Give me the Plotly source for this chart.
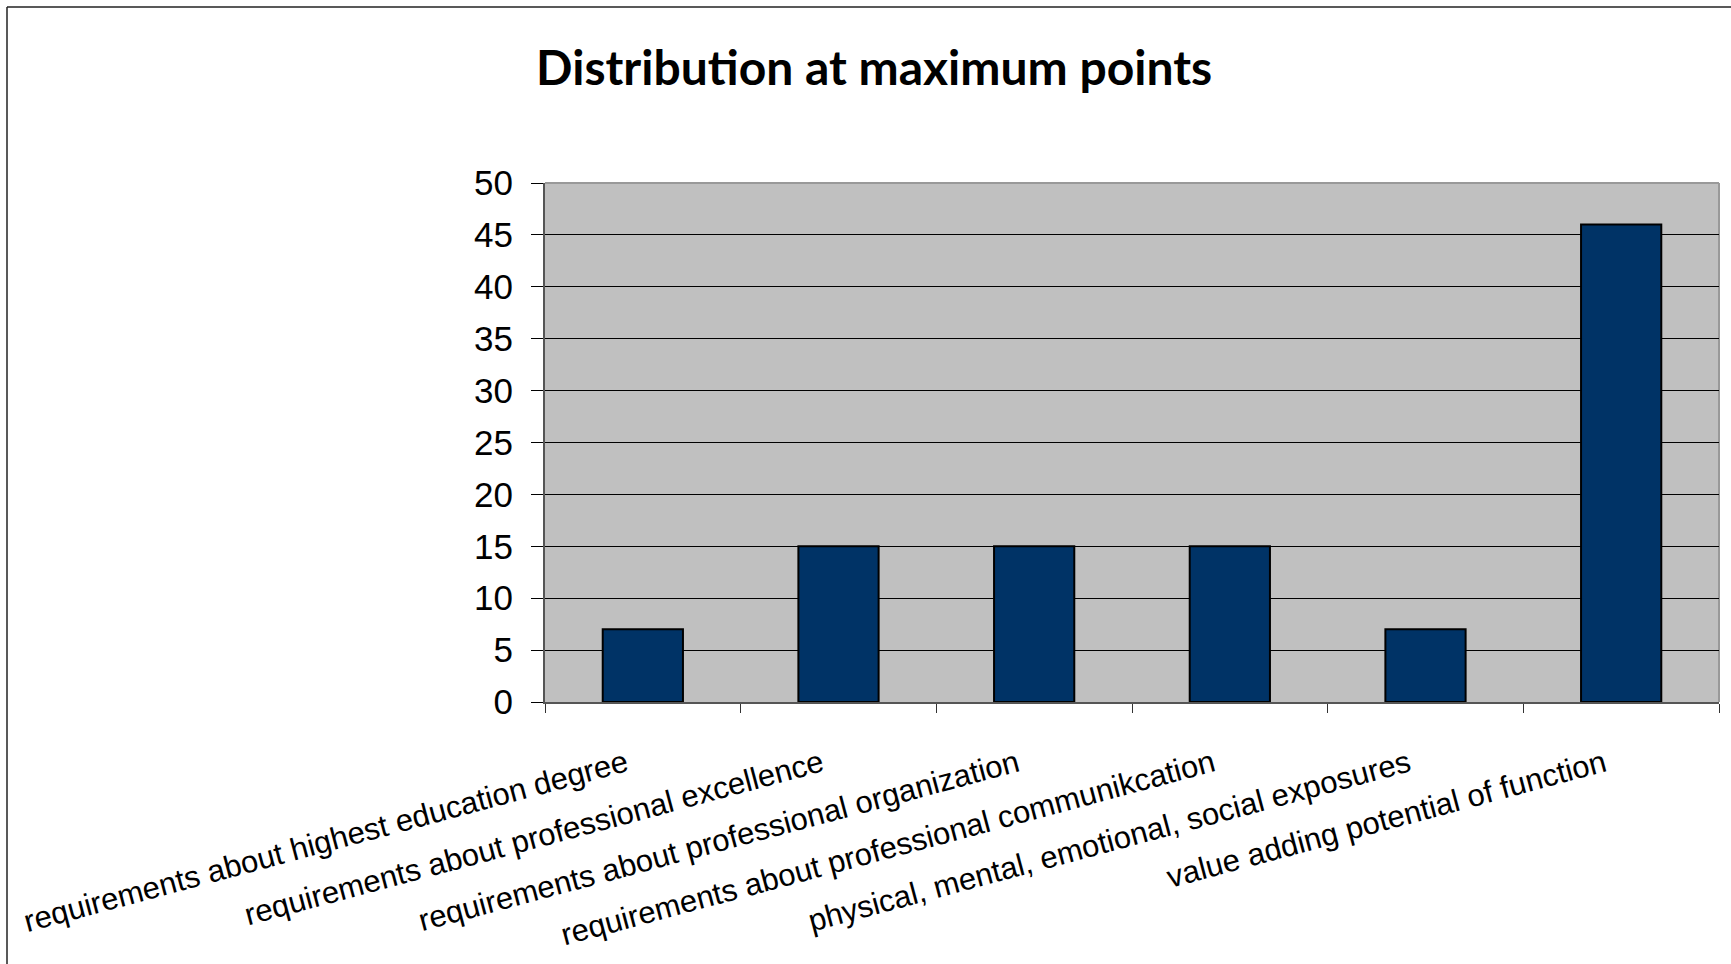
import plotly.graph_objects as go

categories = [
    "requirements about highest education degree",
    "requirements about professional excellence",
    "requirements about professional organization",
    "requirements about professional communikcation",
    "physical, mental, emotional, social exposures",
    "value adding potential of function",
]
values = [7, 15, 15, 15, 7, 46]
y_ticks = [0, 5, 10, 15, 20, 25, 30, 35, 40, 45, 50]
title_text = "Distribution at maximum points"

W, H = 1731, 964
L, R, T, B = 545, 12, 183, 262
pw, ph = W - L - R, H - T - B

fig = go.Figure()
fig.add_trace(go.Bar(
    x=categories, y=values,
    marker=dict(color="#003366", line=dict(color="#000000", width=2)),
    width=0.41,
))

fx = lambda px: (px - L) / pw
fy = lambda py: (H - B - py) / ph

fig.update_layout(
    width=W, height=H,
    margin=dict(l=L, r=R, t=T, b=B, pad=0),
    paper_bgcolor="white",
    plot_bgcolor="#C0C0C0",
    showlegend=False,
    title=dict(text="<b>" + title_text + "</b>", x=0.505, xanchor="center",
               y=1 - 68 / H, yanchor="middle",
               font=dict(family="Lato", size=48, color="black")),
    font=dict(family="Liberation Sans, Arial", color="black"),
    xaxis=dict(
        type="category", tickangle=-15,
        tickfont=dict(size=31, family="Liberation Sans"),
        ticks="outside", tickson="boundaries", ticklen=9, tickcolor="#333",
        showline=True, linecolor="#555", linewidth=2,
        showgrid=False, ticklabelstandoff=30, ticklabelshift=-17,
    ),
    yaxis=dict(
        range=[0, 50], tickvals=y_ticks,
        tickfont=dict(size=35, family="Liberation Sans"),
        ticks="outside", ticklen=12, tickcolor="#000", tickwidth=1,
        showline=True, linecolor="#555", linewidth=2,
        showgrid=True, gridcolor="#000000", gridwidth=1,
        zeroline=False, ticklabelstandoff=11,
    ),
    shapes=[
        dict(type="line", xref="paper", yref="paper", layer="below",
             x0=fx(L), x1=fx(W - R), y0=1, y1=1, line=dict(color="#999", width=2)),
        dict(type="line", xref="paper", yref="paper", layer="below",
             x0=fx(W - R), x1=fx(W - R), y0=0, y1=1, line=dict(color="#999", width=2)),
        dict(type="line", xref="paper", yref="paper",
             x0=fx(7), x1=fx(7), y0=fy(7), y1=fy(H + 5), line=dict(color="#222", width=1.5)),
        dict(type="line", xref="paper", yref="paper",
             x0=fx(7), x1=fx(W + 5), y0=fy(7), y1=fy(7), line=dict(color="#222", width=1.5)),
    ],
)

fig.write_html("out.html")
